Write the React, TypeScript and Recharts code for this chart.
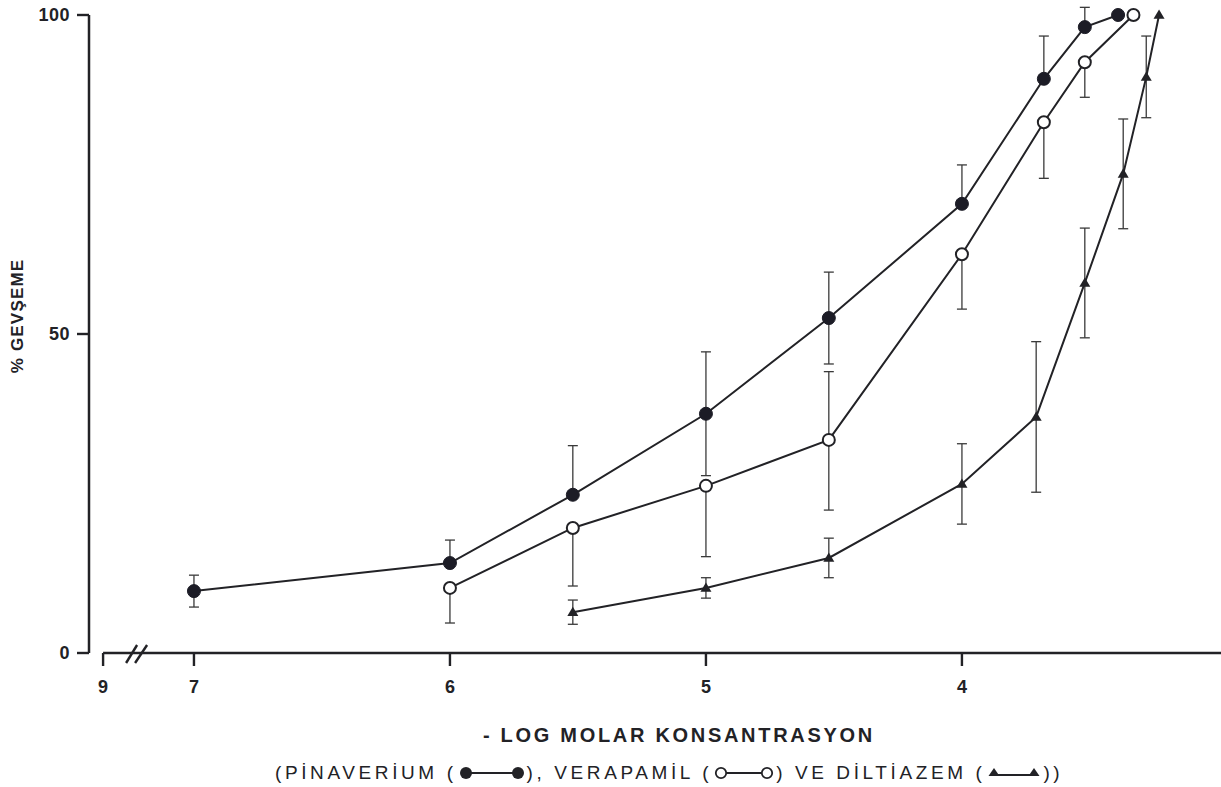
import React from 'react'
import { LineChart, Line, XAxis, YAxis, ErrorBar, ReferenceLine } from 'recharts'

const INK = '#222226'
const FONT = '"Liberation Sans", Arial, Helvetica, sans-serif'

// x = -log molar concentration, y = % relaxation, err = [down, up] or ± value
const pinaveriumX = [7, 6, 5.52, 5, 4.52, 4, 3.68, 3.52, 3.39]
const pinaveriumY = [9.7, 14.1, 24.8, 37.5, 52.5, 70.4, 90.0, 98.1, 100]
const pinaveriumErr = [[2.5, 2.5], [0, 3.6], [0, 7.7], [9.7, 9.7], [7.2, 7.2], [0, 6.1], [0, 6.7], [0, 3.1], null]

const verapamilX = [6, 5.52, 5, 4.52, 4, 3.68, 3.52, 3.33]
const verapamilY = [10.2, 19.6, 26.2, 33.4, 62.5, 83.2, 92.6, 100]
const verapamilErr = [[5.5, 0], [9.1, 0], [11.1, 0], [11, 10.7], [8.6, 0], [8.8, 0], [5.5, 0], null]

const diltiazemX = [5.52, 5, 4.52, 4, 3.71, 3.52, 3.37, 3.28, 3.23]
const diltiazemY = [6.4, 10.2, 14.9, 26.5, 37.0, 58.0, 75.1, 90.3, 100]
const diltiazemErr = [1.9, 1.6, 3.1, 6.3, 11.8, 8.6, 8.6, 6.4, 0]

// axis: "9" sits just after the break, then the real scale 7..4
const xTickValues = [7.355, 7, 6, 5, 4]
const xTickLabels = ['9', '7', '6', '5', '4']
const yTicks = [0, 50, 100]

const X_MIN = 2.988
const X_MAX = 7.41
const Y_TOP = 102.35
const X_TICK_SIZE = 13
const X_TICK_MARGIN = 8

const XTick = (props: any) => {
  const { x, y, payload } = props
  const i = xTickValues.indexOf(payload.value)
  const axisY = y - X_TICK_SIZE - X_TICK_MARGIN
  return (
    <g>
      <text x={x} y={y + 19} textAnchor="middle" fill={INK} fontSize={18} fontWeight={700} fontFamily={FONT}>
        {xTickLabels[i]}
      </text>
      {i === 0 && (
        <g stroke={INK} strokeWidth={2.4}>
          <line x1={x + 23} y1={axisY + 10} x2={x + 34} y2={axisY - 8} />
          <line x1={x + 32} y1={axisY + 10} x2={x + 44} y2={axisY - 8} />
        </g>
      )}
    </g>
  )
}

const TriangleDot = (props: any) => {
  const { cx, cy, index } = props
  if (cx == null || cy == null) return null
  const s = 5.5
  return (
    <path
      key={`tri-${index}`}
      d={`M${cx},${cy - s}L${cx + s},${cy + s * 0.7}L${cx - s},${cy + s * 0.7}Z`}
      fill={INK}
    />
  )
}

const LegendMark = ({ kind, w }: { kind: 'filled' | 'open' | 'tri'; w: number }) => {
  const end = (cx: number) => {
    if (kind === 'filled') return <circle cx={cx} cy={8} r={6} fill={INK} />
    if (kind === 'open') return <circle cx={cx} cy={8} r={5.2} fill="#fff" stroke={INK} strokeWidth={1.8} />
    return <path d={`M${cx},${3}L${cx + 5.5},${11}L${cx - 5.5},${11}Z`} fill={INK} />
  }
  return (
    <svg width={w} height={16} style={{ margin: '0 2px', verticalAlign: 'middle' }}>
      <line x1={6} y1={kind === 'tri' ? 10 : 8} x2={w - 6} y2={kind === 'tri' ? 10 : 8} stroke={INK} strokeWidth={2} />
      {end(7)}
      {end(w - 7)}
    </svg>
  )
}

export default function App() {
  const pin = pinaveriumX.map((x, i) => ({ x, y: pinaveriumY[i], err: pinaveriumErr[i] }))
  const ver = verapamilX.map((x, i) => ({ x, y: verapamilY[i], err: verapamilErr[i] }))
  const dil = diltiazemX.map((x, i) => ({ x, y: diltiazemY[i], err: diltiazemErr[i] }))

  return (
    <div style={{ position: 'absolute', left: 0, top: 0, width: 1221, height: 787, background: '#fff', overflow: 'hidden', fontFamily: FONT, color: INK }}>
      <LineChart width={1221} height={787} margin={{ top: 0, right: 0, bottom: 94, left: 0 }}>
        <XAxis
          type="number"
          dataKey="x"
          domain={[X_MIN, X_MAX]}
          reversed
          allowDataOverflow
          ticks={xTickValues}
          interval={0}
          axisLine={false}
          tickLine={{ stroke: INK, strokeWidth: 2.4 }}
          tickSize={X_TICK_SIZE}
          tickMargin={X_TICK_MARGIN}
          tick={<XTick />}
          height={40}
        />
        <YAxis
          type="number"
          domain={[0, Y_TOP]}
          allowDataOverflow
          ticks={yTicks}
          interval={0}
          axisLine={false}
          tickLine={{ stroke: INK, strokeWidth: 2.4 }}
          tickSize={12}
          tickMargin={7}
          width={89}
          tick={{ fill: INK, fontSize: 18, fontWeight: 700, fontFamily: FONT, letterSpacing: 0.5 }}
        />
        <ReferenceLine segment={[{ x: X_MAX, y: 0 }, { x: X_MAX, y: 100 }]} stroke={INK} strokeWidth={2.5} />
        <ReferenceLine segment={[{ x: xTickValues[0], y: 0 }, { x: X_MIN, y: 0 }]} stroke={INK} strokeWidth={2.5} />

        <Line
          data={dil}
          dataKey="y"
          stroke={INK}
          strokeWidth={2}
          dot={<TriangleDot />}
          activeDot={false}
          isAnimationActive={false}
        >
          <ErrorBar dataKey="err" direction="y" width={5} stroke="#3a3a3a" strokeWidth={1.3} />
        </Line>
        <Line
          data={ver}
          dataKey="y"
          stroke={INK}
          strokeWidth={2}
          dot={{ r: 6, fill: '#fff', stroke: INK, strokeWidth: 2 }}
          activeDot={false}
          isAnimationActive={false}
        >
          <ErrorBar dataKey="err" direction="y" width={5} stroke="#3a3a3a" strokeWidth={1.3} />
        </Line>
        <Line
          data={pin}
          dataKey="y"
          stroke={INK}
          strokeWidth={2}
          dot={{ r: 6.5, fill: '#1c1c26', stroke: '#1c1c26', strokeWidth: 1 }}
          activeDot={false}
          isAnimationActive={false}
        >
          <ErrorBar dataKey="err" direction="y" width={5} stroke="#3a3a3a" strokeWidth={1.3} />
        </Line>
      </LineChart>

      <div style={{ position: 'absolute', left: 18, top: 316, transform: 'translate(-50%, -50%) rotate(-90deg)', whiteSpace: 'nowrap', fontSize: 17, fontWeight: 700, letterSpacing: 1.2 }}>
        % GEVŞEME
      </div>
      <div style={{ position: 'absolute', left: 483, top: 722, whiteSpace: 'nowrap', fontSize: 20, fontWeight: 700, letterSpacing: 2.7, lineHeight: '26px' }}>
        - LOG MOLAR KONSANTRASYON
      </div>
      <div style={{ position: 'absolute', left: 275, top: 760, whiteSpace: 'nowrap', fontSize: 19, letterSpacing: 3.6, lineHeight: '26px', display: 'flex', alignItems: 'center' }}>
        <span>(PİNAVERİUM (</span>
        <LegendMark kind="filled" w={66} />
        <span>), VERAPAMİL (</span>
        <LegendMark kind="open" w={60} />
        <span>) VE DİLTİAZEM (</span>
        <LegendMark kind="tri" w={54} />
        <span>))</span>
      </div>
    </div>
  )
}
